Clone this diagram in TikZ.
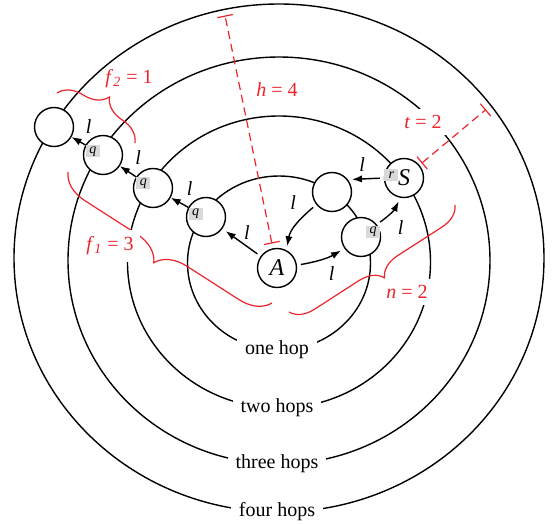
\documentclass[tikz,border=0pt]{standalone}
\usepackage{fontspec}
\setmainfont{Liberation Serif}
\usepackage{tikz}
\usetikzlibrary{arrows.meta,positioning,calc,decorations.pathreplacing}
\definecolor{hopred}{RGB}{236,36,44}
\definecolor{qgray}{RGB}{217,217,217}

\begin{document}
\begin{tikzpicture}[x=0.5pt,y=-0.5pt,
  router/.style={draw,circle,fill=white,minimum size=19.5pt,inner sep=0pt,line width=0.7pt,font=\large\itshape},
  qbox/.style={fill=qgray,inner sep=0.5pt,minimum width=7pt,minimum height=6pt,font=\scriptsize\itshape},
  hop/.style={-{Latex[length=5pt,width=3.6pt]},line width=0.7pt},
  gap/.style={shorten <=2pt,shorten >=2pt},
  lbl/.style={font=\itshape},
  ring/.style={line width=0.7pt},
  ringlbl/.style={fill=white,inner sep=4pt},
  dim/.style={hopred,dash pattern=on 4pt off 2.5pt,line width=0.6pt,{Bar[width=8pt]}-{Bar[width=8pt]}},
  brc/.style={hopred,line width=0.6pt,decorate,decoration={brace,amplitude=#1}},
  redlbl/.style={hopred,fill=white}]
  \useasboundingbox (0,0) rectangle (553,525);
  % Hop rings
  \foreach \cy/\rx/\ry in {263/91.5/87,262/151.5/146,260.5/211/203.5,258/265/254}
    \draw[ring] (279,\cy) ellipse [x radius=\rx, y radius=\ry];
  \node[ringlbl] (hop1) at (277,350) {one hop};
  \node[ringlbl] (hop2) at (277,408) {two hops};
  \node[ringlbl] (hop3) at (277,464) {three hops};
  \node[ringlbl] (hop4) at (277,512) {four hops};
  % Routers
  \node[router] (A) at (277,268) {A};
  \node[router] (S) at (404,178) {S};
  \node[router] (m1) at (332,192) {};
  \node[router] (m2) at (361,237) {};
  \node[router] (n1) at (206,217) {};
  \node[router] (n2) at (153,188) {};
  \node[router] (n3) at (103,155) {};
  \node[router] (n4) at (54,127) {};
  % Queues
  \node[qbox,anchor=north west] (q1) at (n1.151) {q};
  \node[qbox,anchor=north west] (q2) at (n2.147) {q};
  \node[qbox,anchor=north west] (q3) at (n3.150) {q};
  \node[qbox,anchor=east] (q4) at (m2.15) {q};
  \node[qbox,anchor=west] (r1) at (S.172) {r};
  % Links towards the left
  \draw[hop,gap] (A) -- node[lbl,anchor=south west,inner sep=1pt] {l} (n1);
  \draw[hop] (n1) -- node[lbl,above right] {l} (n2);
  \draw[hop] (n2) -- node[lbl,above right] {l} (n3);
  \draw[hop] (n3) -- node[lbl,above right] {l} (n4);
  % Links through S
  \draw[hop,gap] (A.8) to[out=10,in=210] node[lbl,below right] {l} (m2.215);
  \draw[hop,gap] (m2.39) to[out=34,in=243] node[lbl,below right] {l} (S.260);
  \draw[hop,gap] (S.west) -- node[lbl,above,pos=0.6] {l} (m1.38);
  \draw[hop,gap] (m1.219) to[out=220,in=80] node[lbl,above left,pos=0.3] {l} (A.62);
  % Distances
  \coordinate (htop) at (225,15.5);
  \coordinate (ttop) at (486,109.5);
  \draw[dim] ($(A)!12.5pt!(htop)$) -- (htop);
  \draw[dim] ($(S)!11.5pt!(ttop)$) -- (ttop);
  \node[redlbl] (hlbl) at (277,90) {\textit{h} = 4};
  \node[redlbl] (tlbl) at (423,122) {\textit{t} = 2};
  % Braces
  \draw[brc=12.5pt] (57,93) -- (135,143);
  \draw[brc=15pt] (272,303) -- (68,172);
  \draw[brc=11.5pt] (455,205) -- (289,312);
  \node[hopred] (f2lbl) at (129,79) {\textit{f}\textsubscript{\itshape 2} = 1};
  \node[redlbl] (f1lbl) at (110,246) {\textit{f}\textsubscript{\itshape 1} = 3};
  \node[redlbl] (nlbl) at (407,292) {\textit{n} = 2};
\end{tikzpicture}
\end{document}
